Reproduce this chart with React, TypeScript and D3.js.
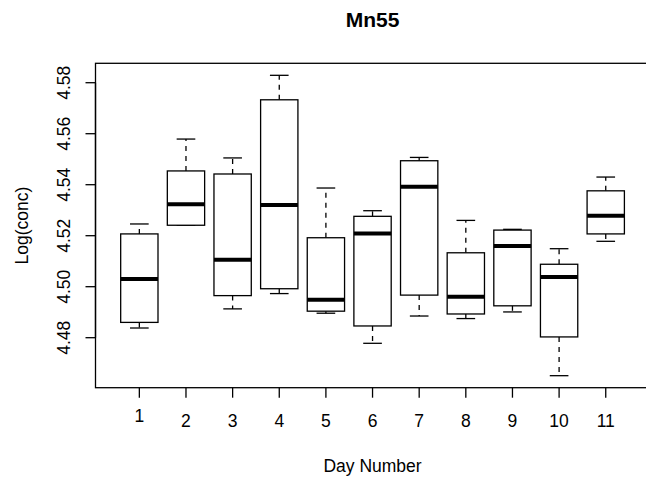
import React from "react";
import * as d3 from "d3";

// Box statistics per day: lower whisker, Q1, median, Q3, upper whisker
const days = [1, 2, 3, 4, 5, 6, 7, 8, 9, 10, 11];
const lowerWhisker = [4.4838, 4.5241, 4.4913, 4.4973, 4.4896, 4.4778, 4.4885, 4.4875, 4.4901, 4.4651, 4.5178];
const q1 = [4.4860, 4.5241, 4.4965, 4.4992, 4.4904, 4.4846, 4.4967, 4.4893, 4.4925, 4.4803, 4.5207];
const medians = [4.5030, 4.5323, 4.5106, 4.5320, 4.4949, 4.5209, 4.5392, 4.4961, 4.5160, 4.5038, 4.5278];
const q3 = [4.5207, 4.5454, 4.5442, 4.5733, 4.5192, 4.5276, 4.5494, 4.5133, 4.5222, 4.5088, 4.5376];
const upperWhisker = [4.5246, 4.5579, 4.5505, 4.5829, 4.5387, 4.5298, 4.5507, 4.5260, 4.5225, 4.5149, 4.5430];
const yTicks = [4.48, 4.5, 4.52, 4.54, 4.56, 4.58];

const W = 646;
const H = 480;
const left = 95.5;
const top = 63.3;
const bottom = 387.7;
const unit = 46.64;
const font = "'Liberation Sans', Arial, Helvetica, sans-serif";

export default function App() {
  const n = days.length;
  const xd: [number, number] = [0.5 - 0.04 * n, n + 0.5 + 0.04 * n];
  const right = left + (xd[1] - xd[0]) * unit;
  const x = d3.scaleLinear().domain(xd).range([left, right]);

  const lo = d3.min(lowerWhisker)!;
  const hi = d3.max(upperWhisker)!;
  const pad = (hi - lo) * 0.04;
  const y = d3.scaleLinear().domain([lo - pad, hi + pad]).range([bottom, top]);

  const boxHalf = 0.4;
  const capHalf = 0.2;
  const fs = 17.5;
  const tick = 10;

  return (
    <svg width={W} height={H} style={{ position: "absolute", left: 0, top: 0, background: "#fff" }} fontFamily={font}>
      <rect x={0} y={0} width={W} height={H} fill="#fff" />
      <text x={(left + right) / 2} y={27} textAnchor="middle" fontSize={21} fontWeight="bold">Mn55</text>

      {days.map((d, i) => {
        const cx = x(d);
        return (
          <g key={d} stroke="#000" fill="none">
            <line x1={cx} x2={cx} y1={y(q3[i])} y2={y(upperWhisker[i])} strokeWidth={1.3} strokeDasharray="5,5" />
            <line x1={cx} x2={cx} y1={y(q1[i])} y2={y(lowerWhisker[i])} strokeWidth={1.3} strokeDasharray="5,5" />
            <line x1={x(d - capHalf)} x2={x(d + capHalf)} y1={y(upperWhisker[i])} y2={y(upperWhisker[i])} strokeWidth={1.3} />
            <line x1={x(d - capHalf)} x2={x(d + capHalf)} y1={y(lowerWhisker[i])} y2={y(lowerWhisker[i])} strokeWidth={1.3} />
            <rect x={x(d - boxHalf)} y={y(q3[i])} width={x(d + boxHalf) - x(d - boxHalf)} height={y(q1[i]) - y(q3[i])} fill="#fff" strokeWidth={1.3} />
            <line x1={x(d - boxHalf)} x2={x(d + boxHalf)} y1={y(medians[i])} y2={y(medians[i])} strokeWidth={4} />
          </g>
        );
      })}

      <rect x={left} y={top} width={right - left} height={bottom - top} fill="none" stroke="#000" strokeWidth={1.3} />

      {yTicks.map((t) => (
        <g key={t}>
          <line x1={left - tick} x2={left} y1={y(t)} y2={y(t)} stroke="#000" strokeWidth={1.3} />
          <text transform={`translate(${70},${y(t)}) rotate(-90)`} textAnchor="middle" fontSize={fs}>{t.toFixed(2)}</text>
        </g>
      ))}
      <line x1={left} x2={left} y1={y(yTicks[0])} y2={y(yTicks[yTicks.length - 1])} stroke="#000" strokeWidth={1.3} />

      {days.map((d, i) => (
        <g key={d}>
          <line x1={x(d)} x2={x(d)} y1={bottom} y2={bottom + tick} stroke="#000" strokeWidth={1.3} />
          <text x={x(d)} y={i === 0 ? 421.5 : 426.5} textAnchor="middle" fontSize={fs}>{d}</text>
        </g>
      ))}

      <text x={(left + right) / 2} y={472} textAnchor="middle" fontSize={fs}>Day Number</text>
      <text transform={`translate(${28},${(top + bottom) / 2}) rotate(-90)`} textAnchor="middle" fontSize={fs}>Log(conc)</text>
    </svg>
  );
}
